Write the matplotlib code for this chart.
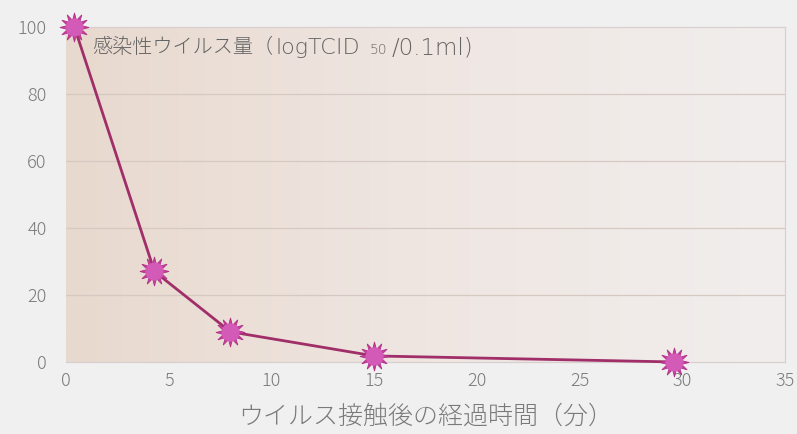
import matplotlib.pyplot as plt
import numpy as np
from matplotlib.colors import LinearSegmentedColormap

plt.rcParams['font.family'] = ['Noto Sans CJK JP', 'DejaVu Sans']

# ── Data ─────────────────────────────────────────────────────────────────────
minutes = [0.4, 4.3, 8.0, 15.0, 29.6]
virus_pct = [100, 27, 9, 1.8, 0]

x_ticks = [0, 5, 10, 15, 20, 25, 30, 35]
y_ticks = [0, 20, 40, 60, 80, 100]

XLABEL = "ウイルス接触後の経過時間（分）"
NOTE_JA = "感染性ウイルス量（"
NOTE_UNIT = "logTCID"
NOTE_SUB = "50"
NOTE_TAIL = "/0.1ml)"

NOTE_FONT = ['DejaVu Sans', 'Noto Sans CJK JP']
NOTE_COLOR = "#636363"

# ── Figure ───────────────────────────────────────────────────────────────────
fig = plt.figure(figsize=(7.97, 4.34), dpi=100)
fig.patch.set_facecolor("#f1f0f0")
ax = fig.add_axes([0.083, 0.166, 0.902, 0.772])

ax.set_xlim(0, 35)
ax.set_ylim(0, 100)

# gradient background, beige on the left fading to pale on the right
cmap = LinearSegmentedColormap.from_list("bg", ["#e8d9ce", "#efe6e2", "#f1eeed"])
grad = np.linspace(0, 1, 256).reshape(1, -1)
ax.imshow(grad, extent=[0, 35, 0, 100], aspect="auto", cmap=cmap, zorder=0)

for y in y_ticks[1:-1]:
    ax.axhline(y, color="#d6c9c2", linewidth=0.9, zorder=1)

for s in ["top", "right", "bottom", "left"]:
    ax.spines[s].set_color("#d8d0ce")
    ax.spines[s].set_linewidth(0.9)
ax.spines["left"].set_visible(False)

ax.plot(minutes, virus_pct, color="#a02e68", linewidth=2.0, zorder=3, clip_on=False)
# spiky ball markers: star behind, round ball on top
ax.plot(minutes, virus_pct, linestyle="none", marker=(12, 1, 0), markersize=21,
        markerfacecolor="#c8409e", markeredgecolor="#b03088", markeredgewidth=0.6,
        zorder=4, clip_on=False)
ax.plot(minutes, virus_pct, linestyle="none", marker="o", markersize=13,
        markerfacecolor="#d45ab8", markeredgecolor="none", zorder=5, clip_on=False)

ax.set_xticks(x_ticks)
ax.set_yticks(y_ticks)
ax.tick_params(length=0, labelsize=13, colors="#7a7a7a")
ax.tick_params(axis="x", pad=7)
ax.tick_params(axis="y", pad=14)
for lbl in ax.get_xticklabels() + ax.get_yticklabels():
    lbl.set_fontweight("light")

ax.set_xlabel(XLABEL, fontsize=18, color="#7a7a7a", labelpad=10, fontweight="light")

# annotation with small subscript part, chained one after another
t1 = ax.text(1.25, 93.8, NOTE_JA, fontsize=14.5, color=NOTE_COLOR, va="center",
             zorder=6, fontweight="light", family=NOTE_FONT)
t2 = ax.annotate(NOTE_UNIT, xy=(1, 0.5), xycoords=t1, xytext=(2, 0),
                 textcoords="offset points", fontsize=16, color=NOTE_COLOR,
                 va="center", zorder=6, fontweight="light", family=NOTE_FONT)
t3 = ax.annotate(NOTE_SUB, xy=(1, 0.5), xycoords=t2, xytext=(7, -1.5),
                 textcoords="offset points", fontsize=10, color=NOTE_COLOR,
                 va="center", zorder=6, fontweight="light", family=NOTE_FONT)
ax.annotate(NOTE_TAIL, xy=(1, 0.5), xycoords=t3, xytext=(3, 1.5),
            textcoords="offset points", fontsize=16.5, color=NOTE_COLOR,
            va="center", zorder=6, fontweight="light", family=NOTE_FONT)

plt.savefig("out.png", dpi=100, facecolor=fig.get_facecolor())
